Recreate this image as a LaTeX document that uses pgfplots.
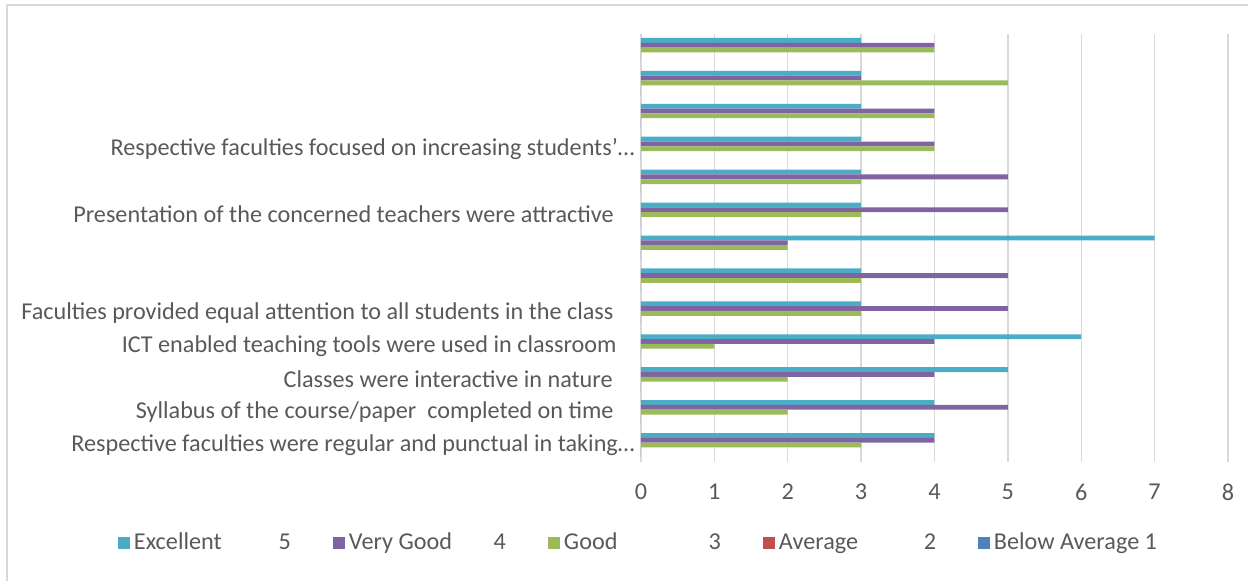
\documentclass[border=0pt]{standalone}
\usepackage{fontspec}
\setmainfont{Carlito}
\usepackage{pgfplots}
\usepackage{pgfplotstable}
\pgfplotsset{compat=1.18}
\newlength\px \setlength\px{0.5pt}
\definecolor{cEx}{HTML}{4BACC6}
\definecolor{cVG}{HTML}{8064A2}
\definecolor{cGd}{HTML}{9BBB59}
\definecolor{cAv}{HTML}{C0504D}
\definecolor{cBA}{HTML}{4F81BD}
\definecolor{gridc}{HTML}{D9D9D9}
\definecolor{txt}{HTML}{595959}
\newcommand\lblfont{\fontsize{12.1}{14.5}\selectfont}
\newcommand\trail[1]{\hspace*{#1\px}\mbox{}}

% rows from bottom (0) to top (12)
\pgfplotstableread{
y  E V G A B
0  4 4 3 0 0
1  4 5 2 0 0
2  5 4 2 0 0
3  6 4 1 0 0
4  3 5 3 0 0
5  3 5 3 0 0
6  7 2 2 0 0
7  3 5 3 0 0
8  3 5 3 0 0
9  3 4 4 0 0
10 3 4 4 0 0
11 3 3 5 0 0
12 3 4 4 0 0
}\ratings

\begin{document}
\begin{tikzpicture}
\useasboundingbox (0,0) rectangle (1248\px,-580\px);
\draw[gridc, line width=1.5\px] (7\px,-5\px) rectangle (1280\px,-620\px);
\begin{axis}[
  at={(641\px,-461.5\px)}, anchor=south west,
  scale only axis, width=587\px, height=428\px,
  xmin=0, xmax=8, ymin=-0.5, ymax=12.5,
  xbar, bar width=4.8\px,
  xtick={0,...,8},
  ytick={0,...,12},
  yticklabels={
    Respective faculties were regular and punctual in taking…,
    Syllabus of the course/paper\ \ completed on time\trail{21},
    Classes were interactive in nature\trail{22},
    ICT enabled teaching tools were used in classroom\trail{18},
    Faculties provided equal attention to all students in the class\trail{21},
    {},{},
    Presentation of the concerned teachers were attractive\trail{21},
    {},
    Respective faculties focused on increasing students’…,
    {},{},{}},
  /pgf/number format/assume math mode=true,
  xticklabel style={font=\lblfont, text=txt, inner sep=0pt, anchor=north, yshift=-22\px},
  yticklabel style={font=\lblfont, text=txt, inner sep=0pt, anchor=east, xshift=-6\px},
  axis line style={draw=none},
  major tick length=0pt,
  xmajorgrids,
  grid style={gridc, line width=1.4\px},
  legend style={at={(-0.8910,-0.1905)}, anchor=west, draw=none, fill=none,
    inner sep=0pt, outer sep=0pt, font=\lblfont, text=txt,
    /tikz/every even column/.append style={column sep=38\px}},
  legend columns=5,
  legend image code/.code={\fill[#1] (0\px,-6\px) rectangle (12\px,6\px);},
]
\addplot[fill=cEx, draw=none, bar shift=9.6\px] table[x=E, y=y] {\ratings};
\addlegendentry{\makebox[157\px][l]{Excellent\hfill 5}}
\addplot[fill=cVG, draw=none, bar shift=4.8\px] table[x=V, y=y] {\ratings};
\addlegendentry{\makebox[157\px][l]{Very Good\hfill 4}}
\addplot[fill=cGd, draw=none, bar shift=0\px] table[x=G, y=y] {\ratings};
\addlegendentry{\makebox[157\px][l]{Good\hfill 3}}
\addplot[fill=cAv, draw=none, bar shift=-4.8\px] table[x=A, y=y] {\ratings};
\addlegendentry{\makebox[157\px][l]{Average\hfill 2}}
\addplot[fill=cBA, draw=none, bar shift=-9.6\px] table[x=B, y=y] {\ratings};
\addlegendentry{Below Average 1}
\end{axis}
\end{tikzpicture}
\end{document}
